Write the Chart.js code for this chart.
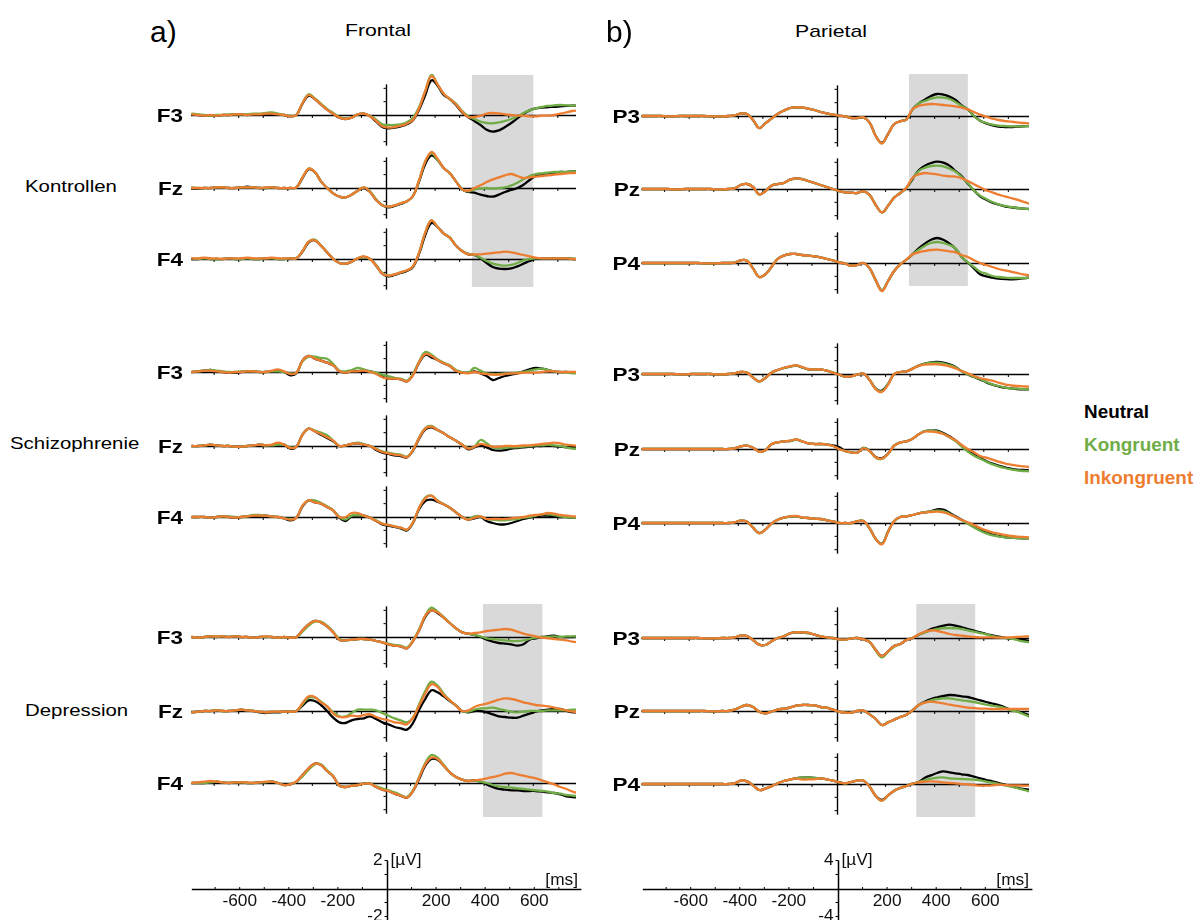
<!DOCTYPE html>
<html><head><meta charset="utf-8">
<script src="https://cdn.jsdelivr.net/npm/chart.js@4.4.0/dist/chart.umd.min.js"></script>
<style>
html,body{margin:0;padding:0;background:#fff;}
body{width:1203px;height:920px;overflow:hidden;position:relative;font-family:"Liberation Sans",Arial,sans-serif;}
canvas{position:absolute;}
.t{position:absolute;white-space:nowrap;line-height:1;}
</style></head><body>
<script>
// ---------- time axis (ms) ----------
const TIMES = [
-790,-765,-740,-715,-690,-665,-640,-615,
-590,-565,-540,-515,-490,-465,-440,-415,
-390,-365,-340,-315,-290,-265,-240,-215,
-190,-165,-140,-115,-90,-65,-40,-15,
10,35,60,85,110,135,160,185,
210,235,260,285,310,335,360,385,
410,435,460,485,510,535,560,585,
610,635,660,685,710,735,760,785];

const SERIES_NAMES = ['Neutral','Kongruent','Inkongruent'];
const GROUP_NAMES = ['Kontrollen','Schizophrenie','Depression'];
const SCALE_X_LABELS = [-600,-400,-200,200,400,600];
const SCALE_FRONTAL_Y = [2,-2];
const SCALE_PARIETAL_Y = [4,-4];

// shaded time windows (ms)
const SHADE_K_FRONTAL = [350, 600];
const SHADE_D_FRONTAL = [395, 637];
const SHADE_K_PARIETAL = [295, 535];
const SHADE_D_PARIETAL = [325, 565];

// ---------- Kontrollen, frontal (µV) ----------
const K_F3_N = [.05,0,-.05,-.05,-.05,0,0,.05, .05,0,.05,.05,.1,.1,.05,0, -.1,0,.85,1.45,1.2,.8,.4,.1, -.2,-.3,-.2,.05,.1,-.1,-.5,-.9, -1,-.95,-.85,-.7,-.4,.4,1.5,2.6, 2.2,1.5,1.2,.75,.2,-.15,-.45,-.75, -1.1,-1.25,-1.15,-.9,-.6,-.25,.1,.35, .5,.55,.6,.62,.65,.68,.7,.7];
const K_F3_K = [.1,.05,0,-.05,0,0,.05,.05, .05,.05,.1,.1,.15,.2,.1,0, -.05,0,.9,1.55,1.25,.85,.45,.15, -.15,-.25,-.2,.05,.1,-.05,-.35,-.7, -.75,-.75,-.7,-.55,-.2,.6,1.8,3, 2.3,1.6,1.2,.85,.3,-.1,-.3,-.5, -.6,-.62,-.55,-.45,-.3,-.1,.15,.35, .5,.6,.68,.72,.75,.72,.7,.7];
const K_F3_I = [.05,0,-.05,0,-.05,0,0,.05, .05,0,.05,.05,.1,.1,.05,0, -.1,0,.9,1.5,1.2,.8,.4,.1, -.2,-.3,-.2,.05,.1,-.1,-.45,-.85, -.95,-.9,-.8,-.65,-.35,.5,1.8,2.9, 2.3,1.6,1.2,.8,.25,-.15,-.15,-.05, .1,.15,.12,.05,0,-.05,-.05,-.1, -.1,-.05,-.05,0,.1,.2,.3,.35];
const K_FZ_N = [-.05,-.05,0,0,.05,.05,0,0, .05,.1,.05,0,0,.05,0,0, 0,.05,.75,1.4,1.2,.5,0,-.4, -.65,-.7,-.5,-.2,0,-.3,-.9,-1.3, -1.45,-1.35,-1.2,-1,-.6,.5,1.8,2.45, 2.1,1.5,1.1,.5,-.1,-.3,-.35,-.5, -.6,-.65,-.5,-.3,-.15,0,.25,.6, .9,1.05,1.1,1.15,1.2,1.2,1.25,1.25];
const K_FZ_K = [.05,0,0,0,.05,.05,0,0, .05,.05,.05,0,0,.05,0,0, 0,.05,.8,1.45,1.2,.5,0,-.4, -.65,-.7,-.5,-.2,.05,-.25,-.85,-1.3, -1.4,-1.3,-1.15,-1,-.6,.6,2,2.6, 2.1,1.5,1.1,.5,-.1,-.25,-.1,-.05, 0,-.05,0,.05,.2,.4,.65,.9, 1.05,1.1,1.15,1.2,1.2,1.2,1.25,1.25];
const K_FZ_I = [0,0,0,0,.05,.05,0,0, .05,.05,.05,0,.05,.05,0,0, 0,.05,.8,1.45,1.2,.5,0,-.4, -.65,-.7,-.5,-.2,.05,-.3,-.9,-1.3, -1.4,-1.3,-1.15,-1,-.6,.6,2,2.7, 2.2,1.5,1.1,.5,-.1,-.2,0,.2, .45,.65,.8,.95,1.05,.9,.75,.8, .85,.9,.95,1,1.05,1.1,1.12,1.15];
const K_F4_N = [0,0,.05,0,0,0,.05,0, 0,.05,0,0,.05,.05,0,0, .05,.05,.55,1.25,1.4,1,.5,0, -.3,-.35,-.2,.05,.15,0,-.5,-1.1, -1.3,-1.2,-1.05,-.9,-.6,.4,1.8,2.7, 2.4,1.9,1.6,1,.6,.35,.3,.05, -.3,-.6,-.72,-.75,-.7,-.55,-.35,-.15, 0,.05,.05,.05,.05,.05,0,0];
const K_F4_K = [.05,0,.05,0,0,0,.05,0, 0,.05,0,0,.05,.05,0,0, .05,.05,.6,1.3,1.45,1,.5,0, -.3,-.35,-.2,.05,.15,0,-.45,-1.05, -1.25,-1.15,-1,-.85,-.55,.5,2,2.9, 2.4,1.9,1.6,1,.6,.4,.3,.1, -.15,-.35,-.45,-.5,-.45,-.3,-.1,0, .05,.05,.05,.05,.05,.05,.05,0];
const K_F4_I = [.05,.05,.1,.05,.05,0,.05,.05, .05,.1,.05,.05,.05,.1,.05,.05, .05,.05,.6,1.3,1.4,1,.5,0, -.3,-.35,-.2,.05,.2,0,-.5,-1.1, -1.25,-1.15,-1,-.85,-.55,.5,2,2.9, 2.4,1.9,1.6,1,.6,.35,.35,.35, .4,.45,.5,.55,.5,.4,.3,.2, .1,.05,.05,.05,.05,.05,0,0];

// ---------- Kontrollen, parietal (µV) ----------
const K_P3_N = [0,0,0,0,-.05,-.05,0,0, 0,0,0,-.05,-.05,-.05,0,.1, .35,.3,-.6,-1.8,-1.1,-.4,.3,.8, 1.2,1.3,1.25,1.1,.9,.6,.4,.2, .05,-.05,-.3,-.3,-.2,-1,-3,-4, -2.7,-1.2,-.8,-.5,1,1.9,2.45,3, 3.3,3.2,2.9,2.4,1.6,1,0,-.7, -1.1,-1.4,-1.6,-1.65,-1.65,-1.6,-1.55,-1.5];
const K_P3_K = [0,0,0,0,-.05,-.05,0,0, 0,0,0,-.05,-.05,-.05,0,.1, .35,.3,-.6,-1.8,-1.1,-.4,.3,.8, 1.15,1.3,1.25,1.1,.9,.6,.4,.2, .05,-.05,-.3,-.3,-.2,-1,-3,-4.1, -2.7,-1.2,-.8,-.5,1,1.9,2.25,2.6, 2.8,2.75,2.55,2.1,1.5,1,0,-.7, -1.05,-1.3,-1.45,-1.5,-1.55,-1.55,-1.55,-1.5];
const K_P3_I = [0,0,0,0,-.05,-.05,0,0, 0,0,0,-.05,-.05,-.05,0,.1, .35,.3,-.6,-1.8,-1.1,-.4,.3,.8, 1.2,1.3,1.3,1.1,.9,.6,.4,.2, .05,-.05,-.3,-.3,-.2,-1,-3,-4.1, -2.7,-1.2,-.8,-.5,1,1.5,1.7,1.8, 1.75,1.65,1.55,1.45,1.25,1,.6,.2, -.1,-.4,-.6,-.75,-.85,-.95,-1.05,-1.1];
const K_PZ_N = [0,0,0,0,0,-.05,-.05,0, 0,0,0,0,-.05,-.05,0,.1, .6,.75,.3,-.8,-.35,.5,.75,.9, 1.4,1.6,1.5,1.2,.9,.6,.3,0, -.3,-.5,-.55,-.6,-.35,-.9,-2.4,-3.5, -2.5,-1.3,-.6,.2,1.5,2.8,3.5,3.9, 4.1,3.95,3.5,2.7,1.9,.8,-.2,-1.1, -1.6,-2.05,-2.35,-2.6,-2.75,-2.85,-2.95,-3];
const K_PZ_K = [0,0,0,0,0,-.05,-.05,0, 0,0,0,0,-.05,-.05,0,.1, .6,.75,.3,-.8,-.35,.5,.75,.9, 1.35,1.55,1.5,1.2,.9,.6,.3,0, -.3,-.5,-.55,-.6,-.35,-.9,-2.4,-3.5, -2.5,-1.3,-.6,.2,1.6,2.7,3.2,3.45, 3.5,3.4,3.05,2.6,1.8,.85,-.2,-1, -1.5,-1.95,-2.3,-2.55,-2.7,-2.85,-2.95,-3];
const K_PZ_I = [0,0,0,0,0,-.05,-.05,0, 0,0,0,0,-.05,-.05,0,.1, .6,.75,.3,-.8,-.35,.5,.75,.9, 1.4,1.6,1.5,1.2,.9,.6,.3,0, -.3,-.5,-.55,-.6,-.35,-.9,-2.4,-3.5, -2.5,-1.3,-.6,.2,1.7,2.2,2.4,2.3, 2.2,2,1.9,1.85,1.6,1.2,.7,.25, -.2,-.5,-.85,-1.1,-1.35,-1.6,-1.9,-2.2];
const K_P4_N = [0,0,0,0,0,0,0,0, 0,0,-.05,-.05,-.05,0,0,.05, .4,.35,-.8,-2.1,-1.7,-.6,.6,1.1, 1.35,1.35,1.2,1.1,1,.85,.6,.4, .1,-.1,-.4,-.3,0,-.8,-2.6,-4.1, -2.7,-1.2,-.2,.5,1.3,2.2,2.9,3.5, 3.75,3.5,2.9,2.15,.9,.05,-.8,-1.7, -2,-2.2,-2.35,-2.4,-2.45,-2.4,-2.3,-2.2];
const K_P4_K = [0,0,0,0,0,0,0,0, 0,0,-.05,-.05,-.05,0,0,.05, .4,.35,-.8,-2.1,-1.7,-.6,.6,1.1, 1.35,1.35,1.2,1.1,1,.85,.6,.4, .1,-.1,-.4,-.3,0,-.8,-2.6,-4.1, -2.7,-1.2,-.2,.5,1.3,2,2.6,3, 3.15,3,2.7,2.2,.9,.1,-.6,-1.3, -1.6,-1.95,-2.1,-2.2,-2.25,-2.25,-2.25,-2.2];
const K_P4_I = [0,0,0,0,0,0,0,0, 0,0,-.05,-.05,-.05,0,0,.05, .4,.35,-.8,-2.1,-1.7,-.6,.6,1.1, 1.35,1.35,1.2,1.1,1,.85,.6,.4, .1,-.1,-.4,-.3,0,-.8,-2.6,-4.2, -2.7,-1.2,-.2,.5,1.3,1.6,1.8,1.95, 2,1.9,1.75,1.6,1.2,.9,.4,0, -.3,-.6,-.9,-1.1,-1.3,-1.5,-1.7,-1.85];

// ---------- Schizophrenie, frontal (µV) ----------
const S_F3_N = [0,.05,.1,.15,.05,0,-.05,-.05, 0,.05,.05,0,0,.05,.05,0, -.25,-.1,.85,1.2,1,.85,.7,.5, .05,-.05,.05,.05,.1,.05,-.1,-.35, -.5,-.5,-.55,-.7,-.2,.7,1.3,1.1, .9,.65,.45,.1,-.05,-.05,.05,-.1, -.3,-.6,-.45,-.3,-.2,-.1,.05,.2, .3,.25,.15,.05,0,0,-.05,-.05];
const S_F3_K = [0,.05,.1,.15,.1,.05,0,0, .05,.05,.05,0,0,.05,.05,0, -.1,-.05,.8,1.15,1.15,1.05,1,.6, .1,.05,.15,.3,.2,.05,-.05,-.2, -.3,-.45,-.5,-.65,-.15,.8,1.5,1.3, .95,.7,.5,.15,0,-.05,.3,.1, -.1,-.15,-.15,-.1,-.1,-.05,0,.1, .2,.25,.15,.05,0,-.05,-.1,-.1];
const S_F3_I = [0,.05,.1,.1,.05,0,-.05,0, 0,.05,.05,0,0,.1,.2,.05, -.15,-.05,.85,1.2,1,.85,.7,.5, .05,-.05,.05,.05,.1,0,-.15,-.4, -.5,-.5,-.55,-.7,-.25,.75,1.35,1.2, .9,.65,.45,.1,-.05,-.1,0,-.1, -.15,-.2,-.2,-.15,-.1,-.1,-.05,-.05, -.05,0,.05,.05,0,0,0,0];
const S_FZ_N = [0,0,.05,.1,.05,0,0,-.05, -.05,0,.05,.1,.05,.05,.1,.1, -.2,-.05,.85,1.3,1.1,.85,.6,.35, 0,.05,.15,.2,.1,0,-.3,-.5, -.6,-.7,-.75,-.85,-.35,.55,1.25,1.4, 1.2,.95,.65,.4,.1,-.25,-.1,.05, -.1,-.3,-.35,-.3,-.2,-.15,-.1,-.05, 0,0,.05,0,-.05,-.1,-.1,-.1];
const S_FZ_K = [0,0,.05,.1,.05,0,0,-.05, -.05,0,.05,.1,.05,.05,.1,.1, -.1,-.05,.85,1.3,1.15,1,.8,.4, 0,.05,.15,.25,.15,0,-.2,-.4, -.5,-.6,-.65,-.8,-.3,.65,1.35,1.5, 1.2,.95,.65,.4,.1,-.15,-.05,.45, .2,-.1,-.15,-.15,-.1,-.1,-.05,0, .05,.05,.1,.05,0,-.1,-.2,-.2];
const S_FZ_I = [0,0,.05,.1,.05,0,0,-.05, -.05,0,.05,.1,.05,.1,.25,.1, -.15,-.05,.85,1.3,1.1,.9,.65,.4, 0,.05,.15,.2,.1,0,-.25,-.45, -.55,-.65,-.7,-.85,-.3,.6,1.3,1.45, 1.2,.95,.65,.4,.1,-.2,-.05,.15, .05,-.05,-.05,0,0,0,.05,.05, .1,.15,.2,.25,.2,.1,.05,0];
const S_F4_N = [0,0,0,-.05,0,.05,0,-.05, 0,.05,.1,.1,.1,.05,0,-.1, -.25,-.05,.8,1.25,1.1,1,.75,.5, -.05,-.3,.05,.1,.1,-.05,-.3,-.55, -.65,-.75,-.85,-1,-.45,.6,1.2,1.3, 1.15,.95,.7,.35,0,-.2,-.1,0, -.3,-.45,-.55,-.55,-.45,-.3,-.15,-.05, .05,.1,.1,.05,0,0,-.05,-.05];
const S_F4_K = [0,0,0,-.05,0,.05,.05,0, 0,.05,.15,.15,.1,.05,0,-.1, -.15,-.05,.85,1.25,1.25,1.05,.8,.5, 0,-.2,.1,.15,.1,-.05,-.25,-.5, -.6,-.7,-.8,-.95,-.4,.7,1.45,1.6, 1.25,.95,.7,.35,0,-.15,.05,.05, -.15,-.2,-.25,-.25,-.2,-.15,-.05,0, .1,.2,.2,.15,.05,0,-.05,-.05];
const S_F4_I = [0,0,0,-.05,0,.05,0,-.05, 0,.05,.1,.1,.1,.05,0,-.1, -.2,-.05,.85,1.25,1.1,1,.75,.5, 0,0,.3,.3,.1,-.05,-.3,-.5, -.6,-.7,-.8,-.95,-.4,.7,1.4,1.6, 1.2,.95,.7,.35,0,-.2,-.05,.05, -.15,-.15,-.15,-.15,-.1,-.05,0,.1, .15,.2,.3,.25,.15,.1,.05,.05];

// ---------- Schizophrenie, parietal (µV) ----------
const S_P3_N = [0,0,0,0,0,0,-.05,-.05, 0,0,0,0,-.05,-.05,0,.1, .3,.2,-.5,-1.1,-.6,.2,.6,.9, 1.1,1.25,1,.7,.7,.7,.5,.2, -.1,-.4,-.35,-.1,.05,-.9,-2.2,-2.5, -1.5,0,.3,.4,.8,1.25,1.55,1.75, 1.8,1.7,1.45,1.05,.4,-.05,-.45,-.8, -1.25,-1.6,-1.85,-2.05,-2.15,-2.25,-2.3,-2.3];
const S_P3_K = [0,0,0,0,0,0,-.05,-.05, 0,0,0,0,-.05,-.05,0,.1, .3,.2,-.5,-1.15,-.6,.2,.6,.9, 1.1,1.25,1,.7,.7,.7,.5,.2, -.1,-.4,-.35,-.1,.05,-.9,-2.2,-2.6, -1.5,0,.3,.4,.8,1.25,1.55,1.7, 1.7,1.6,1.35,1,.4,-.05,-.45,-.75, -1.2,-1.55,-1.8,-2,-2.15,-2.2,-2.25,-2.3];
const S_P3_I = [0,0,0,0,0,0,-.05,-.05, 0,0,0,0,-.05,-.05,0,.1, .3,.2,-.5,-1.1,-.6,.2,.6,.9, 1.15,1.3,1.05,.75,.7,.7,.5,.2, -.1,-.4,-.35,-.1,.05,-.9,-2.3,-2.7, -1.6,0,.3,.4,.8,1.25,1.4,1.45, 1.45,1.35,1.15,.85,.45,.1,-.3,-.6, -.8,-1,-1.3,-1.55,-1.7,-1.8,-1.85,-1.9];
const S_PZ_N = [0,0,0,0,0,0,0,0, 0,0,0,0,0,0,0,.1, .4,.5,.2,-.4,-.2,.7,1,1.15, 1.2,1.4,1.15,.85,.75,.75,.7,.55, .3,-.3,-.5,-.55,.15,-.3,-1.2,-1.4, -.7,.5,1,1.15,1.55,2.2,2.7,2.75, 2.75,2.4,1.9,1.3,.5,-.3,-.85,-1.35, -1.8,-2.2,-2.5,-2.75,-2.95,-3.1,-3.15,-3.2];
const S_PZ_K = [0,0,0,0,0,0,0,0, 0,0,0,0,0,0,0,.1, .4,.5,.2,-.4,-.2,.7,1,1.15, 1.2,1.4,1.15,.85,.75,.75,.7,.45, 0,-.3,-.5,-.55,.15,-.3,-1.3,-1.5, -.75,.5,1,1.15,1.55,2.2,2.7,2.75, 2.65,2.3,1.75,1.2,.35,-.4,-1,-1.45, -1.9,-2.3,-2.6,-2.85,-3.05,-3.2,-3.3,-3.35];
const S_PZ_I = [0,0,0,0,0,0,0,0, 0,0,0,0,0,0,0,.1, .4,.5,.2,-.4,-.2,.7,1,1.15, 1.25,1.45,1.15,.85,.75,.75,.7,.45, 0,-.3,-.5,-.55,.1,-.3,-1.25,-1.45, -.7,.5,1,1.15,1.55,2.2,2.6,2.6, 2.5,2.25,1.8,1.3,.6,0,-.5,-1.05, -1.3,-1.6,-1.9,-2.15,-2.35,-2.5,-2.6,-2.7];
const S_P4_N = [0,0,0,0,0,0,0,0, 0,0,0,0,0,0,0,.1, .35,.2,-.7,-1.5,-1,-.1,.5,.8, .95,1,.8,.75,.65,.6,.4,.25, 0,0,0,.25,.3,-.8,-2.4,-3.1, -1.3,.3,.9,1,1.2,1.45,1.6,1.75, 2.05,2,1.55,1,.5,-.05,-.6,-1.05, -1.45,-1.75,-1.95,-2.1,-2.2,-2.25,-2.3,-2.3];
const S_P4_K = [0,0,0,0,0,0,0,0, 0,0,0,0,0,0,0,.1, .35,.2,-.7,-1.5,-1,-.1,.5,.8, .95,1,.8,.75,.65,.6,.4,.25, 0,0,0,.25,.3,-.8,-2.4,-3.1, -1.3,.3,.9,1,1.2,1.45,1.6,1.75, 1.85,1.8,1.4,.9,.4,-.1,-.65,-1.15, -1.55,-1.85,-2,-2.15,-2.2,-2.25,-2.3,-2.3];
const S_P4_I = [0,0,0,0,0,0,0,0, 0,0,0,0,0,0,0,.1, .35,.2,-.7,-1.5,-1,-.1,.5,.8, 1,1.05,.85,.75,.65,.6,.4,.25, 0,0,0,.25,.3,-.8,-2.4,-3.2, -1.35,.3,.9,1,1.2,1.45,1.6,1.65, 1.7,1.6,1.3,.9,.45,.1,-.3,-.75, -1.1,-1.4,-1.6,-1.8,-1.95,-2.05,-2.1,-2.15];

// ---------- Depression, frontal (µV) ----------
const D_F3_N = [0,-.05,0,.05,0,.05,0,.05, 0,0,-.05,0,0,0,-.05,0, -.05,0,.5,.95,1.2,1.1,.8,.35, -.2,-.25,-.2,-.15,-.15,-.2,-.3,-.4, -.55,-.65,-.7,-.85,-.3,.5,1.5,2, 1.8,1.45,1.05,.65,.35,.25,.15,0, -.2,-.35,-.45,-.5,-.55,-.65,-.55,-.2, -.1,0,.05,.1,0,0,0,.05];
const D_F3_K = [0,-.05,0,.05,0,.05,0,.05, 0,0,-.05,0,0,0,-.05,0, -.05,0,.4,.85,1.15,1.15,.85,.4, -.15,-.25,-.2,-.15,-.15,-.2,-.3,-.4, -.5,-.6,-.65,-.8,-.25,.6,1.6,2.2, 1.9,1.5,1.05,.65,.35,.25,.15,.05, -.1,-.15,-.2,-.25,-.3,-.3,-.25,-.15, -.05,0,0,.05,0,.05,.05,.05];
const D_F3_I = [0,-.05,0,.05,.05,.05,0,.05, 0,0,-.05,0,.05,0,-.05,0, -.05,0,.5,.95,1.2,1.1,.8,.35, -.2,-.25,-.2,-.15,-.15,-.2,-.3,-.4, -.55,-.65,-.7,-.85,-.3,.5,1.6,2, 1.85,1.45,1.05,.65,.35,.25,.3,.35, .45,.5,.55,.6,.55,.4,.25,.15, .05,-.05,-.1,-.15,-.2,-.25,-.35,-.4];
const D_FZ_N = [-.1,-.05,0,0,.05,0,0,.05, .1,.05,0,-.1,-.15,-.1,-.1,-.05, -.05,0,.4,.8,.75,.45,0,-.5, -.85,-.9,-.7,-.6,-.55,-.4,-.6,-.85, -1,-1.2,-1.3,-1.4,-.9,.1,.9,1.55, 1.4,1.1,.75,.4,0,-.1,0,0, -.1,-.25,-.4,-.45,-.5,-.5,-.35,-.2, -.05,.05,.1,.15,.15,0,-.1,-.1];
const D_FZ_K = [-.1,-.05,0,0,.05,0,0,.05, .1,.05,0,-.05,-.1,-.05,-.05,-.05, -.05,0,.5,1,1,.7,.35,-.1, -.4,-.4,-.15,.1,.1,.1,.05,-.15, -.35,-.55,-.7,-.85,-.5,.5,1.5,2.2, 1.9,1.3,.8,.4,0,-.05,.1,.2, .2,.25,.15,.05,-.05,-.1,-.05,0, 0,0,.05,.05,.05,.05,.1,.1];
const D_FZ_I = [-.1,-.05,0,0,.05,0,0,.05, .1,.05,0,-.05,-.1,-.05,-.05,-.05, -.05,0,.6,1.1,1.05,.65,.35,-.2, -.45,-.45,-.35,-.4,-.3,-.25,-.45,-.6, -.7,-.85,-.9,-1,-.5,.4,1.3,2, 1.8,1.2,.8,.4,0,.05,.3,.45, .55,.7,.85,.95,.9,.8,.65,.55, .45,.4,.35,.25,.15,.05,-.05,-.05];
const D_F4_N = [0,0,0,.05,.1,.05,0,.05, .05,0,0,.05,.05,.1,0,-.15, -.1,.1,.6,1.1,1.45,1.35,.9,.5, -.2,-.3,-.2,-.15,-.05,-.05,-.3,-.5, -.6,-.8,-.95,-1.1,-.6,.3,1.3,1.8, 1.75,1.3,.8,.45,.25,.15,.2,.1, -.1,-.3,-.45,-.5,-.55,-.55,-.6,-.6, -.6,-.65,-.7,-.75,-.85,-1,-1.05,-1.1];
const D_F4_K = [0,0,0,.05,.1,.05,0,.05, .05,0,0,.05,.05,.1,0,-.15, -.1,.1,.5,1,1.4,1.4,.95,.5, -.2,-.3,-.2,-.15,-.05,-.05,-.25,-.4, -.55,-.7,-.9,-1.05,-.55,.45,1.5,2.1, 1.9,1.35,.8,.45,.25,.15,.2,.1, 0,-.15,-.25,-.3,-.35,-.4,-.45,-.5, -.55,-.6,-.65,-.75,-.8,-.9,-.95,-1];
const D_F4_I = [0,.05,.1,.15,.1,.05,0,.05, .05,.05,0,.05,.1,.1,0,-.15, -.1,.1,.6,1.1,1.45,1.35,.9,.5, -.2,-.3,-.2,-.15,-.05,-.05,-.3,-.5, -.6,-.8,-.95,-1.1,-.6,.4,1.4,1.9, 1.8,1.3,.8,.45,.25,.15,.2,.25, .35,.45,.55,.7,.75,.65,.55,.45, .35,.2,.05,-.1,-.3,-.45,-.65,-.75];

// ---------- Depression, parietal (µV) ----------
const D_P3_N = [0,0,0,0,0,0,0,0, 0,0,-.05,-.05,-.05,0,0,.1, .35,.3,-.3,-1,-1.05,-.5,0,.25, .7,.85,.8,.75,.5,.25,.1,0, -.2,-.25,-.05,0,-.2,-.6,-1.8,-2.7, -2,-1.2,-.9,-.3,0,.5,.9,1.35, 1.6,1.85,2,1.85,1.6,1.35,1.1,.85, .6,.4,.2,.05,-.1,-.15,-.3,-.45];
const D_P3_K = [0,0,0,0,0,0,0,0, 0,0,-.05,-.05,-.05,0,0,.1, .35,.3,-.3,-1,-1.05,-.5,0,.25, .7,.85,.8,.75,.5,.25,.1,0, -.2,-.25,-.05,0,-.2,-.6,-1.9,-2.9, -2.1,-1.3,-.9,-.3,0,.5,.8,1.15, 1.35,1.45,1.5,1.45,1.35,1.15,.95,.75, .55,.3,.1,0,-.1,-.3,-.5,-.65];
const D_P3_I = [0,0,0,0,0,0,0,0, 0,0,-.05,-.05,-.05,0,0,.1, .35,.3,-.3,-1,-1.05,-.5,0,.25, .7,.85,.85,.8,.5,.25,.1,0, -.2,-.25,-.05,0,-.2,-.6,-1.8,-2.7, -2,-1.2,-.9,-.3,0,.55,.95,1.15, 1.05,.85,.6,.45,.35,.25,.15,.1, .1,.1,.05,.05,.1,.15,.2,.25];
const D_PZ_N = [0,0,0,0,0,0,0,0, 0,0,0,-.05,-.05,0,0,.2, .6,.9,.6,-.1,-.35,-.1,.2,.35, .5,.8,.9,.9,.85,.6,.5,.2, -.1,-.25,-.25,0,.05,-.5,-1.2,-2.1, -1.7,-1.3,-.9,-.55,.1,.9,1.4,1.8, 2.05,2.25,2.4,2.35,2.2,2.1,1.85,1.6, 1.35,1.1,.9,.55,.2,-.05,-.3,-.6];
const D_PZ_K = [0,0,0,0,0,0,0,0, 0,0,0,-.05,-.05,0,0,.2, .6,.9,.6,-.1,-.35,-.1,.2,.35, .5,.8,.9,.9,.85,.6,.5,.2, -.1,-.25,-.25,0,.05,-.5,-1.2,-2.1, -1.7,-1.3,-.9,-.55,.1,.9,1.3,1.6, 1.8,1.9,1.9,1.75,1.6,1.5,1.35,1.15, .95,.8,.65,.45,.1,-.1,-.45,-.85];
const D_PZ_I = [0,0,0,0,0,0,0,0, 0,0,0,-.05,-.05,0,0,.2, .6,.9,.6,-.1,-.35,-.1,.2,.35, .5,.8,.9,.9,.85,.6,.5,.2, -.1,-.25,-.25,0,.05,-.5,-1.2,-2.1, -1.7,-1.3,-.9,-.55,.1,.9,1.25,1.4, 1.3,1.15,.95,.8,.65,.5,.45,.35, .35,.3,.3,.3,.3,.3,.3,.3];
const D_P4_N = [0,0,0,0,0,0,0,0, 0,0,0,0,0,0,0,.1, .5,.4,-.2,-.9,-.7,-.35,.1,.45, .65,.85,.95,1,.9,.85,.7,.5, .25,.1,.3,.5,.5,-.4,-1.8,-2.4, -1.7,-1,-.6,-.3,.05,.3,.95,1.3, 1.65,1.9,1.75,1.6,1.45,1.35,1.1,.85, .6,.4,.15,-.1,-.3,-.55,-.75,-.85];
const D_P4_K = [0,0,0,0,0,0,0,0, 0,0,0,0,0,0,0,.1, .5,.4,-.2,-.9,-.7,-.35,.1,.45, .65,.85,.95,1,.9,.85,.7,.5, .25,.1,.3,.5,.5,-.4,-1.8,-2.5, -1.75,-1,-.6,-.3,.05,.3,.55,.8, .95,1,.85,.8,.75,.7,.65,.55, .35,.2,0,-.2,-.4,-.6,-.85,-1.1];
const D_P4_I = [0,0,0,0,0,0,0,0, 0,0,0,0,0,0,0,.1, .5,.4,-.2,-.9,-.7,-.35,.1,.45, .65,.85,.65,.7,.7,.85,.7,.5, .25,.1,.3,.5,.5,-.4,-1.8,-2.5, -1.7,-1,-.6,-.3,.05,.25,.35,.4, .35,.25,.15,.1,0,-.05,-.15,-.25, -.25,-.2,-.1,-.15,-.2,-.2,-.25,-.25];

// ---------- styling / layout ----------
const COLORS = ['#000000', '#70ad47', '#ed7d31'];
const DRAW_ORDER = [3, 2, 1]; // Inkongruent on top, Neutral at the back
const SHADE_COLOR = '#d9d9d9';
const FONT = '"Liberation Sans", Arial, sans-serif';
const LEFT = {zero: 386, ppm: 0.2455, from: -795, to: 775};
const RIGHT = {zero: 836.5, ppm: 0.2455, from: -795, to: 785};
const PANEL_H = 110;
const UNIT = {
  f: {pxPerUv: 13.33, ext: 2.3, ticks: [-2, -1, 1, 2]},
  p: {pxPerUv: 6.665, ext: 4.6, ticks: [-4, -2, 2, 4]}
};
const XTICKS = [-700,-600,-500,-400,-300,-200,-100,100,200,300,400,500,600,700];

const PANELS = [
  {col: LEFT, unit: 'f', base: 115, label: 'F3', s: [K_F3_N, K_F3_K, K_F3_I]},
  {col: LEFT, unit: 'f', base: 188, label: 'Fz', s: [K_FZ_N, K_FZ_K, K_FZ_I]},
  {col: LEFT, unit: 'f', base: 259, label: 'F4', s: [K_F4_N, K_F4_K, K_F4_I]},
  {col: LEFT, unit: 'f', base: 372, label: 'F3', s: [S_F3_N, S_F3_K, S_F3_I]},
  {col: LEFT, unit: 'f', base: 446, label: 'Fz', s: [S_FZ_N, S_FZ_K, S_FZ_I]},
  {col: LEFT, unit: 'f', base: 517, label: 'F4', s: [S_F4_N, S_F4_K, S_F4_I]},
  {col: LEFT, unit: 'f', base: 637, label: 'F3', s: [D_F3_N, D_F3_K, D_F3_I]},
  {col: LEFT, unit: 'f', base: 711, label: 'Fz', s: [D_FZ_N, D_FZ_K, D_FZ_I]},
  {col: LEFT, unit: 'f', base: 783, label: 'F4', s: [D_F4_N, D_F4_K, D_F4_I]},
  {col: RIGHT, unit: 'p', base: 116, label: 'P3', s: [K_P3_N, K_P3_K, K_P3_I]},
  {col: RIGHT, unit: 'p', base: 189, label: 'Pz', s: [K_PZ_N, K_PZ_K, K_PZ_I]},
  {col: RIGHT, unit: 'p', base: 263, label: 'P4', s: [K_P4_N, K_P4_K, K_P4_I]},
  {col: RIGHT, unit: 'p', base: 374, label: 'P3', s: [S_P3_N, S_P3_K, S_P3_I]},
  {col: RIGHT, unit: 'p', base: 449, label: 'Pz', s: [S_PZ_N, S_PZ_K, S_PZ_I]},
  {col: RIGHT, unit: 'p', base: 523, label: 'P4', s: [S_P4_N, S_P4_K, S_P4_I]},
  {col: RIGHT, unit: 'p', base: 638, label: 'P3', s: [D_P3_N, D_P3_K, D_P3_I]},
  {col: RIGHT, unit: 'p', base: 711, label: 'Pz', s: [D_PZ_N, D_PZ_K, D_PZ_I]},
  {col: RIGHT, unit: 'p', base: 784, label: 'P4', s: [D_P4_N, D_P4_K, D_P4_I]}
];
const SHADES = [
  {col: LEFT, top: 75, bottom: 287, win: SHADE_K_FRONTAL},
  {col: LEFT, top: 604, bottom: 817, win: SHADE_D_FRONTAL},
  {col: RIGHT, top: 74, bottom: 286, win: SHADE_K_PARIETAL},
  {col: RIGHT, top: 604, bottom: 817, win: SHADE_D_PARIETAL}
];

// ---------- helpers ----------
const body = document.body;
function addCanvas(left, top, w, h) {
  const c = document.createElement('canvas');
  c.width = w; c.height = h;
  Object.assign(c.style, {left: left + 'px', top: top + 'px', width: w + 'px', height: h + 'px'});
  body.appendChild(c);
  return c;
}
function geom(col, left, width) {
  if (left === undefined) {
    left = Math.round(col.zero + col.from * col.ppm);
    width = Math.round((col.to - col.from) * col.ppm);
  }
  return {left, width, min: (left - col.zero) / col.ppm, max: (left + width - col.zero) / col.ppm};
}
function baseOptions(g, ymin, ymax) {
  return {
    responsive: false, animation: false, events: [], devicePixelRatio: 1,
    layout: {padding: 0},
    plugins: {legend: {display: false}, tooltip: {enabled: false}},
    scales: {
      x: {type: 'linear', min: g.min, max: g.max, display: false},
      y: {type: 'linear', min: ymin, max: ymax, display: false}
    }
  };
}
function addText(txt, x, y, o) {
  const d = document.createElement('div');
  d.className = 't'; d.textContent = txt;
  Object.assign(d.style, {left: x + 'px', top: y + 'px', fontSize: o.size + 'px',
    fontWeight: o.bold ? 'bold' : 'normal', color: o.color || '#000'});
  const sx = o.sx || 1;
  if (o.align === 'right') { d.style.transformOrigin = '100% 50%'; d.style.transform = `translate(-100%,-50%) scaleX(${sx})`; }
  else if (o.align === 'center') { d.style.transformOrigin = '50% 50%'; d.style.transform = `translate(-50%,-50%) scaleX(${sx})`; }
  else { d.style.transformOrigin = '0 50%'; d.style.transform = `translate(0,-50%) scaleX(${sx})`; }
  body.appendChild(d);
}
function canvasText(ctx, s, x, y, align, sx) {
  ctx.save(); ctx.translate(x, y); ctx.scale(sx, 1); ctx.textAlign = align; ctx.fillText(s, 0, 0); ctx.restore();
}

// ---------- plugins ----------
const shadePlugin = {
  id: 'shadeWin',
  beforeDraw(chart, args, o) {
    const {ctx, chartArea, scales: {x}} = chart;
    const x1 = x.getPixelForValue(o.win[0]), x2 = x.getPixelForValue(o.win[1]);
    ctx.save(); ctx.fillStyle = SHADE_COLOR;
    ctx.fillRect(x1, chartArea.top, x2 - x1, chartArea.bottom - chartArea.top);
    ctx.restore();
  }
};
const panelAxes = {
  id: 'panelAxes',
  beforeDatasetsDraw(chart, args, o) {
    const {ctx, scales: {x, y}} = chart;
    const y0 = Math.round(y.getPixelForValue(0)) + 0.5, x0 = Math.round(x.getPixelForValue(0)) + 0.5;
    ctx.save();
    ctx.strokeStyle = '#000'; ctx.lineWidth = 1.4;
    ctx.beginPath();
    ctx.moveTo(x.getPixelForValue(o.from), y0); ctx.lineTo(x.getPixelForValue(o.to), y0);
    ctx.stroke();
    ctx.lineWidth = 1;
    ctx.beginPath();
    for (const t of XTICKS) { const p = x.getPixelForValue(t); ctx.moveTo(p, y0); ctx.lineTo(p, y0 + 2.5); }
    for (const v of o.ticks) { const p = y.getPixelForValue(v); ctx.moveTo(x0 - 3, p); ctx.lineTo(x0, p); }
    ctx.stroke();
    ctx.lineWidth = 1.4;
    ctx.beginPath();
    ctx.moveTo(x0, y.getPixelForValue(o.ext)); ctx.lineTo(x0, y.getPixelForValue(-o.ext));
    ctx.stroke();
    ctx.restore();
  }
};
const scaleBar = {
  id: 'scaleBar',
  afterDraw(chart, args, o) {
    const {ctx, scales: {x, y}} = chart;
    const y0 = Math.round(y.getPixelForValue(0)) + 0.5, x0 = Math.round(x.getPixelForValue(0)) + 0.5;
    ctx.save();
    ctx.strokeStyle = '#000'; ctx.fillStyle = '#111'; ctx.lineWidth = 1.5;
    ctx.beginPath();
    ctx.moveTo(x.getPixelForValue(-795), y0); ctx.lineTo(x.getPixelForValue(792), y0);
    ctx.moveTo(x0, y.getPixelForValue(o.yLabels[0])); ctx.lineTo(x0, chart.height);
    ctx.stroke();
    ctx.lineWidth = 1;
    ctx.beginPath();
    for (const t of XTICKS) { const p = x.getPixelForValue(t); ctx.moveTo(p, y0); ctx.lineTo(p, y0 - 2.5); }
    for (const v of o.yTicks) { const p = y.getPixelForValue(v); ctx.moveTo(x0 - 3, p); ctx.lineTo(x0, p); }
    ctx.stroke();
    ctx.font = '16px ' + FONT;
    ctx.textBaseline = 'middle';
    for (const t of SCALE_X_LABELS) canvasText(ctx, String(t), x.getPixelForValue(t), y0 + 12, 'center', 1.08);
    for (const v of o.yLabels) canvasText(ctx, String(v), x0 - 5, y.getPixelForValue(v), 'right', 1.08);
    canvasText(ctx, '[µV]', x0 + 3, y.getPixelForValue(o.yLabels[0]), 'left', 1.08);
    canvasText(ctx, '[ms]', x.getPixelForValue(778), y0 - 9, 'right', 1.08);
    ctx.restore();
  }
};

// ---------- shaded windows ----------
for (const sh of SHADES) {
  const g = geom(sh.col);
  const c = addCanvas(g.left, sh.top, g.width, sh.bottom - sh.top);
  const opt = baseOptions(g, 0, 1);
  opt.plugins.shadeWin = {win: sh.win};
  new Chart(c, {type: 'line', data: {datasets: []}, options: opt, plugins: [shadePlugin]});
}

// ---------- ERP panels ----------
for (const p of PANELS) {
  const g = geom(p.col);
  const u = UNIT[p.unit];
  const r = (PANEL_H / 2) / u.pxPerUv;
  const c = addCanvas(g.left, p.base - PANEL_H / 2, g.width, PANEL_H);
  const opt = baseOptions(g, -r, r);
  opt.plugins.panelAxes = {from: p.col.from, to: p.col.to, ext: u.ext, ticks: u.ticks};
  new Chart(c, {
    type: 'line',
    data: {
      datasets: p.s.map((arr, i) => ({
        label: SERIES_NAMES[i],
        order: DRAW_ORDER[i],
        data: TIMES.map((t, j) => ({x: t, y: arr[j]})),
        borderColor: COLORS[i], borderWidth: 2.3, pointRadius: 0, tension: 0.4, fill: false,
        borderJoinStyle: 'round', borderCapStyle: 'round'
      }))
    },
    options: opt,
    plugins: [panelAxes]
  });
  const lx = p.col === LEFT ? 183 : 640;
  addText(p.label, lx, p.base + 1, {size: 18, bold: true, align: 'right', sx: 1.25});
}

// ---------- scale bars ----------
[[LEFT, 387, SCALE_FRONTAL_Y, [2, 1, -1, -2], 14], [RIGHT, 838, SCALE_PARIETAL_Y, [4, 2, -2, -4], 7]].forEach(([col, zero, labs, ticks, ppu]) => {
  const left = col === LEFT ? 150 : 600, width = 470, top = 840, h = 80, yZero = 48.5;
  const g = geom({zero, ppm: col.ppm}, left, width);
  const c = addCanvas(left, top, width, h);
  const opt = baseOptions(g, -(h - yZero) / ppu, yZero / ppu);
  opt.plugins.scaleBar = {yLabels: labs, yTicks: ticks};
  new Chart(c, {type: 'line', data: {datasets: []}, options: opt, plugins: [scaleBar]});
});

// ---------- titles & labels ----------
addText('a)', 150, 32, {size: 30});
addText('Frontal', 378, 30, {size: 17, align: 'center', sx: 1.25});
addText('b)', 606, 32, {size: 30});
addText('Parietal', 831, 31, {size: 17, align: 'center', sx: 1.25});
addText(GROUP_NAMES[0], 25, 186, {size: 17, sx: 1.2});
addText(GROUP_NAMES[1], 10, 443, {size: 17, sx: 1.2});
addText(GROUP_NAMES[2], 25, 710, {size: 17, sx: 1.2});
addText(SERIES_NAMES[0], 1084, 411.5, {size: 18, bold: true, color: COLORS[0], sx: 1.05});
addText(SERIES_NAMES[1], 1084, 445, {size: 18, bold: true, color: COLORS[1], sx: 1.05});
addText(SERIES_NAMES[2], 1084, 478, {size: 18, bold: true, color: COLORS[2], sx: 1.05});
</script>
</body></html>
